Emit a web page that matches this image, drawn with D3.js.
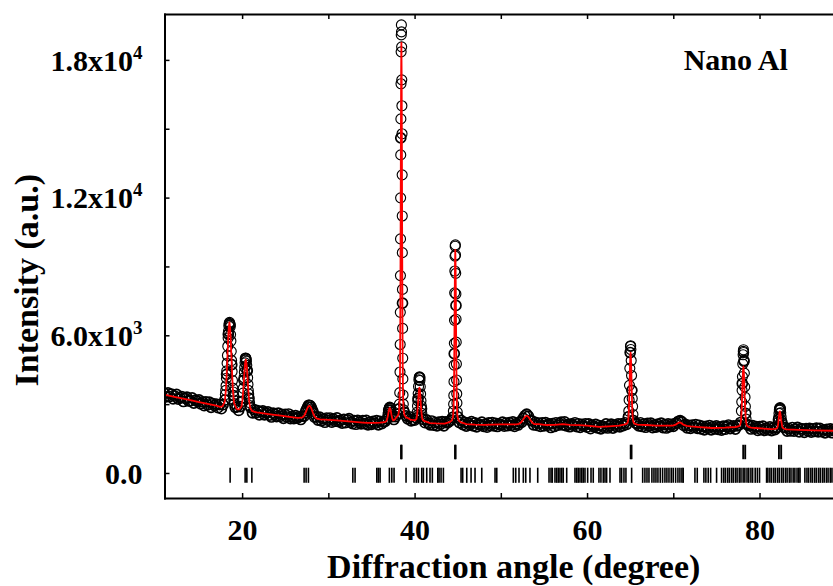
<!DOCTYPE html>
<html>
<head>
<meta charset="utf-8">
<script src="https://cdn.jsdelivr.net/npm/d3@7/dist/d3.min.js"></script>
<style>
  body { margin: 0; background: #fff; }
  svg { display: block; }
  text { font-family: "Liberation Serif", "Times New Roman", serif; font-weight: bold; fill: #000; }
</style>
</head>
<body>
<svg id="chart"></svg>
<script>
// observed scan on the regular 2-theta grid (11.0 .. 90.0, step 0.2)
const obsStart = 11;
const obsStep = 0.2;
const obsCounts = [
  3470, 3314, 3488, 3332, 3436,  3230, 3354, 3428, 3222, 3286,
  3330, 3114, 3248, 3302, 3136,  3140, 3274, 3048, 3172, 3116,
  3190, 3014, 3098, 2932, 3096,  2970, 3085, 2860, 3025, 2940,
  3005, 2845, 2982, 2800, 2975,  3180, 4300, 6050, 6450, 4720,
  3370, 2860, 2880, 2725, 2890,  3120, 4050, 5000, 4450, 3260,
  2850, 2620, 2760, 2625, 2715,  2533, 2662, 2710, 2530, 2610,
  2660, 2520, 2440, 2610, 2550,  2460, 2610, 2470, 2550, 2380,
  2550, 2440, 2570, 2370, 2470,  2370, 2500, 2390, 2460, 2330,
  2475, 2473, 2718, 2885, 2952,  2870, 2695, 2430, 2450, 2305,
  2436, 2270, 2355, 2210, 2395,  2290, 2396, 2212, 2348, 2254,
  2400, 2234, 2298, 2172, 2336,  2190, 2314, 2368, 2212, 2146,
  2280, 2123, 2296, 2219, 2142,  2285, 2150, 2295, 2100, 2211,
  2122, 2253, 2164, 2285, 2100,  2255, 2149, 2243, 2250, 2360,
  2740, 2820, 2450, 2330, 2460,  2560, 2800, 14600, 7400, 2650,
  2490, 2360, 2450, 2270, 2330,  2300, 2400, 3250, 4150, 2800,
  2340, 2190, 2315, 2170, 2100,  2266, 2083, 2200, 2049, 2218,
  2117, 2236, 2055, 2226, 2180,  2240, 2300, 2420, 5200, 7300,
  2450, 2200, 2290, 2110, 2210,  2040, 2186, 2092, 2238, 2054,
  2180, 2008, 2146, 2084, 2212,  2030, 2132, 1994, 2186, 2068,
  2200, 2052, 2164, 2026, 2138,  2090, 2219, 2038, 2177, 2066,
  2195, 2076, 2227, 2028, 2149,  2090, 2230, 2205, 2390, 2495,
  2565, 2480, 2295, 2275, 2100,  2210, 2070, 2170, 2030, 2180,
  2050, 2195, 2070, 2141, 1982,  2153, 2025, 2190, 2080, 2160,
  2215, 2090, 2230, 2050, 2120,  2015, 2143, 2071, 2189, 2017,
  2145, 1990, 2115, 2040, 2145,  2000, 2140, 1930, 2080, 2005,
  2120, 1965, 2070, 1924, 2048,  1982, 2136, 1960, 2056, 2132,
  1958, 2092, 2026, 2140, 2005,  2140, 2060, 2190, 2120, 2450,
  5250, 3600, 2280, 2180, 2140,  2050, 2188, 2026, 2134, 1992,
  2165, 2050, 2175, 1980, 2095,  2000, 2130, 2040, 2170, 1980,
  2110, 1960, 2140, 2020, 2122,  2030, 2155, 2185, 2255, 2280,
  2230, 2070, 2115, 1965, 2078,  1940, 2084, 1988, 2112, 1946,
  2080, 1925, 2030, 1875, 2030,  1945, 2070, 1875, 2022, 1920,
  2052, 1904, 1996, 1868, 2040,  1905, 2018, 2091, 1934, 2007,
  2050, 1915, 2056, 2085, 2200,  3900, 4900, 2600, 2100, 2060,
  1917, 2060, 1943, 2018, 1853,  2018, 1893, 2038, 1853, 1958,
  1883, 2010, 1846, 1964, 1892,  1990, 2330, 2800, 2200, 1990,
  1975, 1822, 1939, 1836, 1983,  1820, 1917, 1984, 1791, 1929,
  1915, 1772, 1929, 1836, 1943,  1780, 1928, 1815, 1953, 1792,
  1940, 1799, 1878, 1747, 1906,  1815, 1924, 1753, 1892, 1821,
  1910, 1779, 1938, 1797, 1866,  1835
];

// extra observed points read across the peaks
const peakTheta = [
  18.06, 18.1, 18.14, 18.18, 18.22, 18.26, 18.3, 18.34, 18.38, 18.42, 18.46, 18.5, 18.54,
  18.58, 18.62, 18.66, 18.7, 18.74, 18.78, 18.84, 18.88, 18.92, 18.96, 19.04, 19.1,
  20.1, 20.14, 20.22, 20.26, 20.3, 20.34, 20.38, 20.42, 20.46, 20.5, 20.54, 20.58,
  20.64, 20.68, 20.72, 20.76, 20.86, 20.9,
  27.3, 27.5, 27.7, 27.9, 28.1, 28.3,
  36.92, 36.96, 37.04, 37.08, 37.12, 37.16, 37.24, 37.28, 37.32,
  38.2, 38.24, 38.28, 38.31, 38.33, 38.345, 38.36, 38.37, 38.38, 38.395, 38.41, 38.425,
  38.44, 38.455, 38.47, 38.485, 38.5, 38.515, 38.53, 38.545, 38.56, 38.57, 38.58, 38.595,
  38.61, 38.625, 38.64, 38.66, 38.69, 38.73,
  40.26, 40.3, 40.34, 40.38, 40.42, 40.46, 40.5, 40.54, 40.58, 40.62, 40.66, 40.7,
  40.74, 40.78, 40.84, 40.88,
  44.5, 44.53, 44.55, 44.57, 44.59, 44.61, 44.63, 44.65, 44.67, 44.69, 44.71, 44.73,
  44.75, 44.77, 44.79, 44.81, 44.83, 44.85, 44.87, 44.89, 44.91, 44.95,
  64.8, 64.84, 64.88, 64.92, 64.96, 65.04, 65.06, 65.08, 65.12, 65.16, 65.24, 65.28, 65.32,
  77.9, 77.94, 77.98, 78.02, 78.06, 78.1, 78.12, 78.14, 78.16, 78.2, 78.24, 78.28,
  78.32, 78.36, 78.44, 78.5,
  82.16, 82.22, 82.26, 82.3, 82.34, 82.38, 82.42, 82.46, 82.5, 82.54, 82.58
];
const peakCounts = [
  3420, 3600, 3800, 4130, 4450, 4780, 5120, 5520, 5880, 6180, 6420, 6520, 6560,
  6500, 6370, 6030, 5750, 5300, 4900, 4420, 4030, 3700, 3530, 3180, 3020,
  3480, 3690, 4150, 4390, 4600, 4800, 4920, 5000, 4960, 4870, 4690, 4500,
  4150, 3860, 3600, 3440, 3070, 2940,
  2620, 2800, 2960, 2940, 2790, 2590,
  2550, 2640, 2790, 2850, 2870, 2840, 2730, 2640, 2560,
  2780, 3000, 3500, 4400, 5600, 7000, 8600, 10200, 11990, 13860, 15430, 16960,
  18350, 19090, 19525, 19220, 18570, 17130, 16000, 14780, 12990, 11200, 9600, 8000,
  6300, 5000, 4100, 3400, 3000, 2750,
  2500, 2650, 2920, 3140, 3460, 3770, 4060, 4170, 4190, 4030, 3760, 3440,
  3150, 2920, 2600, 2450,
  2700, 3000, 3380, 3980, 4700, 5650, 6650, 7850, 8800, 9450, 9880, 9940,
  9500, 8700, 7800, 6700, 5700, 4750, 4050, 3450, 3050, 2650,
  2450, 2700, 3180, 3820, 4560, 5520, 5545, 5380, 4900, 4250, 3250, 2900, 2550,
  2700, 3100, 3600, 4200, 4750, 5150, 5300, 5370, 5250, 4850, 4350, 3750,
  3300, 2900, 2350, 2150,
  2200, 2420, 2600, 2740, 2820, 2845, 2760, 2620, 2450, 2300, 2180
];

// calculated (refined) profile
const calcTheta = [
  11, 12, 13, 14, 15, 16, 17, 17.45, 17.72, 17.99, 18.13, 18.26, 18.37, 18.45, 18.53,
  18.61, 18.69, 18.8, 18.93, 19.07, 19.34, 19.5, 19.68, 19.93, 20.055, 20.18, 20.28,
  20.355, 20.43, 20.505, 20.58, 20.68, 20.805, 20.93, 21.18, 21.7, 22.5, 23.5, 24.5,
  25.5, 26.4, 26.6, 27.0, 27.2, 27.4, 27.56, 27.68, 27.8, 27.92, 28.04, 28.2, 28.4,
  28.6, 29.0, 30, 31, 32, 33, 34, 34.5, 35.5, 36.0, 36.52, 36.72, 36.82, 36.92, 37.0,
  37.06, 37.12, 37.18, 37.24, 37.32, 37.42, 37.52, 37.72, 37.93, 38.11, 38.2, 38.245,
  38.29, 38.32, 38.35, 38.38, 38.41, 38.44, 38.47, 38.5, 38.53, 38.56, 38.59, 38.62,
  38.65, 38.695, 38.74, 38.83, 39.01, 39.2, 39.5, 39.71, 40.05, 40.22, 40.305, 40.39,
  40.46, 40.51, 40.56, 40.61, 40.66, 40.73, 40.815, 40.9, 41.07, 41.41, 41.8, 42.5,
  43.5, 44.12, 44.32, 44.42, 44.47, 44.52, 44.553, 44.587, 44.62, 44.653, 44.687,
  44.72, 44.753, 44.787, 44.82, 44.853, 44.887, 44.92, 44.97, 45.02, 45.12, 45.32,
  46, 47, 48, 49, 50, 51, 51.8, 52.1, 52.33, 52.55, 52.73, 52.87, 53.0, 53.13, 53.27,
  53.45, 53.67, 53.9, 54.4, 55.3, 56.2, 57.2, 58, 59.1, 60, 61.4, 62.5, 63.7, 64.27,
  64.53, 64.66, 64.725, 64.79, 64.833, 64.877, 64.92, 64.963, 65.007, 65.05, 65.093,
  65.137, 65.18, 65.223, 65.267, 65.31, 65.375, 65.44, 65.57, 65.83, 66.8, 68, 69.5,
  69.95, 70.35, 70.55, 70.75, 70.95, 71.15, 71.55, 72, 73, 74.5, 76, 77.23, 77.53,
  77.68, 77.755, 77.83, 77.88, 77.93, 77.98, 78.03, 78.08, 78.13, 78.18, 78.23, 78.28,
  78.33, 78.38, 78.43, 78.505, 78.58, 78.73, 79.03, 79.5, 80.5, 81.3, 81.76, 81.91,
  82.06, 82.11, 82.16, 82.21, 82.26, 82.31, 82.36, 82.41, 82.46, 82.51, 82.56, 82.61,
  82.66, 82.81, 82.96, 83.2, 84.5, 86.3, 88.5, 90
];
const calcCounts = [
  3410, 3330, 3250, 3170, 3090, 3010, 2935, 2880, 2900, 3110, 3664, 4703, 5744, 6339, 6560,
  6330, 5726, 4673, 3619, 3050, 2810, 2770, 2776, 2896, 3222, 3838, 4454,
  4806, 4935, 4798, 4438, 3810, 3180, 2840, 2692, 2640, 2595, 2545, 2495,
  2445, 2400, 2398, 2425, 2503, 2658, 2813, 2901, 2932, 2894, 2800, 2635, 2470,
  2380, 2336, 2310, 2290, 2260, 2230, 2195, 2180, 2185, 2195, 2212, 2255, 2348, 2522, 2696,
  2795, 2832, 2795, 2700, 2530, 2360, 2290, 2330, 2450, 2522, 2721, 2969,
  3630, 4869, 7183, 10488, 14454, 17428, 18750, 17428, 14454, 10488, 7183, 4869,
  3630, 2969, 2721, 2522, 2420, 2400, 2330, 2310, 2290, 2355, 2579, 2968,
  3386, 3625, 3715, 3620, 3380, 2960, 2570, 2345, 2270, 2225, 2170, 2160,
  2155, 2228, 2296, 2387, 2500, 2803, 3370, 4430, 5943, 7758, 9120,
  9725, 9110, 7750, 5935, 4420, 3360, 2795, 2490, 2377, 2286, 2218,
  2130, 2110, 2100, 2110, 2120, 2115, 2120, 2140, 2196, 2303, 2410, 2472, 2495, 2470, 2405,
  2295, 2185, 2125, 2130, 2090, 2095, 2130, 2095, 2085, 2060, 2010, 2030, 2060, 2108,
  2137, 2175, 2222, 2349, 2586, 3028, 3660, 4418, 4987, 5240, 4987,
  4418, 3660, 3028, 2586, 2349, 2222, 2175, 2137, 2108, 2090, 2060, 2060,
  2060, 2120, 2175, 2205, 2170, 2110, 2050, 2030, 2000, 1960, 1975, 2004, 2028,
  2060, 2100, 2206, 2406, 2778, 3310, 3948, 4427, 4640, 4427, 3948, 3310,
  2850, 2500, 2260, 2100, 2050, 2010, 1975, 1960, 1935, 1915, 1919, 1928,
  1971, 2029, 2138, 2293, 2479, 2618, 2680, 2618, 2479, 2293, 2200, 2060,
  1990, 1940, 1915, 1900, 1880, 1855, 1840, 1835
];

// Bragg reflection markers (2-theta, degrees)
const alPositions = [38.43, 38.5, 44.69, 44.76, 65.06, 65.16, 78.11, 78.34, 82.25, 82.51];
const secondPhasePositions = [
  18.61, 20.35, 20.55, 21.13, 27.19, 27.42, 27.69, 32.84, 33.1, 35.62, 35.8, 36.0,
  37.08, 37.36, 37.62, 39.01, 39.94, 40.2, 40.44, 40.83, 41.02, 41.41, 41.79, 42.06,
  42.69, 42.84, 43.07, 43.34, 45.39, 45.58, 46.05, 46.55, 47.01, 47.79, 49.33, 49.53,
  51.45, 51.73, 52.11, 52.61, 52.89, 53.38, 54.28, 55.59, 55.82, 55.97, 56.28, 56.48,
  56.67, 56.86, 57.06, 57.24, 57.64, 58.6, 58.8, 58.98, 59.18, 59.38, 59.56, 59.76,
  60.07, 60.46, 60.72, 61.38, 61.61, 61.88, 62.08, 62.27, 62.66, 63.82, 64.01, 64.28,
  64.51, 65.17, 66.45, 66.71, 66.95, 67.18, 67.52, 67.76, 67.99, 68.22, 68.49, 68.76,
  69.03, 69.26, 69.5, 69.76, 69.99, 70.27, 70.54, 70.77, 71.0, 71.15, 72.51, 72.78,
  73.55, 73.78, 74.05, 74.33, 75.02, 75.6, 75.85, 76.05, 76.3, 76.5, 76.75, 76.95,
  77.2, 77.4, 77.65, 77.85, 78.1, 78.3, 78.55, 78.75, 79.0, 79.2, 79.5, 79.75, 80.0,
  80.82, 80.97, 81.2, 81.4, 81.65, 81.85, 82.1, 82.3, 82.55, 82.75, 83.0, 83.2, 83.45,
  83.65, 83.9, 84.1, 84.35, 84.55, 84.7, 85.26, 85.5, 85.7, 85.95, 86.15, 86.4, 86.6,
  86.85, 87.05, 87.3, 87.5, 87.75, 87.95, 88.2, 88.4, 88.65, 88.9, 89.1, 89.35, 89.6, 89.85
];

// axes
const xTicks = [20, 30, 40, 50, 60, 70, 80, 90];
const xLabelled = [20, 40, 60, 80];
const yTicks = [0, 3000, 6000, 9000, 12000, 15000, 18000];
const yLabelValues = [0, 6000, 12000, 18000];
const yLabelBase = ["0.0", "6.0x10", "1.2x10", "1.8x10"];
const yLabelExp = ["", "3", "4", "4"];

const xTitle = "Diffraction angle (degree)";
const yTitle = "Intensity (a.u.)";
const sampleName = "Nano Al";

class XrdChart {
    margin = { top: 14, right: 0, bottom: 88, left: 164.5 }
    plotWidth = 698.5
    xDomain = [11, 92]
    yDomain = [-1090, 20000]
    // marker rows, in intensity units
    alRow = [600, 1230]
    secondRow = [-430, 230]

    constructor(svg, width = 833, height = 586) {
        this.svg = d3.select(svg);
        this.width = width;
        this.height = height;
    }

    initialize() {
        this.svg.attr("width", this.width).attr("height", this.height);
        this.h = this.height - this.margin.top - this.margin.bottom;
        this.w = this.plotWidth;

        this.x = d3.scaleLinear().domain(this.xDomain).range([0, this.w]);
        this.y = d3.scaleLinear().domain(this.yDomain).range([this.h, 0]);

        this.container = this.svg.append("g")
            .attr("transform", `translate(${this.margin.left}, ${this.margin.top})`);

        this.svg.append("defs").append("clipPath").attr("id", "plot-clip")
            .append("rect").attr("width", this.w).attr("height", this.h);
    }

    drawData() {
        const grid = obsCounts.map((c, i) => ({ t: obsStart + i * obsStep, c, sw: 1.7 }));
        const fine = peakTheta.map((t, i) => ({ t, c: peakCounts[i], sw: 1.15 }));
        const calc = calcTheta.map((t, i) => ({ t, c: calcCounts[i] }));

        const plot = this.container.append("g").attr("clip-path", "url(#plot-clip)");

        plot.append("g").selectAll("circle").data(grid.concat(fine))
            .join("circle")
            .attr("cx", d => this.x(d.t))
            .attr("cy", d => this.y(d.c))
            .attr("r", 5)
            .attr("fill", "none")
            .attr("stroke", "#000")
            .attr("stroke-width", d => d.sw);

        const line = d3.line().x(d => this.x(d.t)).y(d => this.y(d.c));
        plot.append("path").datum(calc)
            .attr("d", line)
            .attr("fill", "none")
            .attr("stroke", "#ff0000")
            .attr("stroke-width", 1.8)
            .attr("stroke-linejoin", "round");

        const rows = [
            { pos: alPositions, band: this.alRow, sw: 1.9 },
            { pos: secondPhasePositions, band: this.secondRow, sw: 1.6 }
        ];
        rows.forEach(r => {
            plot.append("g").selectAll("line").data(r.pos)
                .join("line")
                .attr("x1", d => this.x(d)).attr("x2", d => this.x(d))
                .attr("y1", this.y(r.band[0])).attr("y2", this.y(r.band[1]))
                .attr("stroke", "#000")
                .attr("stroke-width", r.sw);
        });
    }

    drawAxes() {
        const style = g => {
            g.select(".domain").attr("stroke-width", 2).attr("stroke-linecap", "square");
            g.selectAll(".tick line").attr("stroke-width", 1.5);
            g.selectAll("text").attr("font-size", 30)
                .attr("font-family", "'Liberation Serif', 'Times New Roman', serif")
                .attr("font-weight", "bold");
        };

        this.container.append("g")
            .attr("transform", `translate(0, ${this.h})`)
            .call(d3.axisBottom(this.x).tickValues(xTicks).tickSize(-5).tickSizeOuter(0)
                .tickPadding(21).tickFormat(d => xLabelled.includes(d) ? d : ""))
            .call(style);

        this.container.append("g")
            .call(d3.axisTop(this.x).tickValues(xTicks).tickSize(-5).tickSizeOuter(0).tickFormat(""))
            .call(style);

        this.container.append("g")
            .call(d3.axisLeft(this.y).tickValues(yTicks).tickSize(-5).tickSizeOuter(0).tickFormat(""))
            .call(style);

        this.container.append("g")
            .attr("transform", `translate(${this.w}, 0)`)
            .call(d3.axisRight(this.y).tickValues(yTicks).tickSize(-5).tickSizeOuter(0).tickFormat(""))
            .call(style);

        const labels = this.container.append("g").selectAll("text").data(yLabelValues)
            .join("text")
            .attr("x", -22)
            .attr("y", d => this.y(d))
            .attr("dy", "0.36em")
            .attr("text-anchor", "end")
            .attr("font-size", 30);
        labels.append("tspan").text((d, i) => yLabelBase[i]);
        labels.append("tspan")
            .attr("font-size", 19)
            .attr("dy", -12)
            .text((d, i) => yLabelExp[i]);

        this.container.append("text")
            .attr("x", this.w / 2)
            .attr("y", this.h + 80)
            .attr("text-anchor", "middle")
            .attr("font-size", 34)
            .text(xTitle);

        this.svg.append("text")
            .attr("transform", `translate(38, ${this.margin.top + this.y(8400)}) rotate(-90)`)
            .attr("text-anchor", "middle")
            .attr("font-size", 34)
            .text(yTitle);

        this.container.append("text")
            .attr("x", this.x(71.2))
            .attr("y", this.y(17550))
            .attr("font-size", 30)
            .text(sampleName);
    }
}

const chart = new XrdChart(document.getElementById("chart"));
chart.initialize();
chart.drawData();
chart.drawAxes();
</script>
</body>
</html>
